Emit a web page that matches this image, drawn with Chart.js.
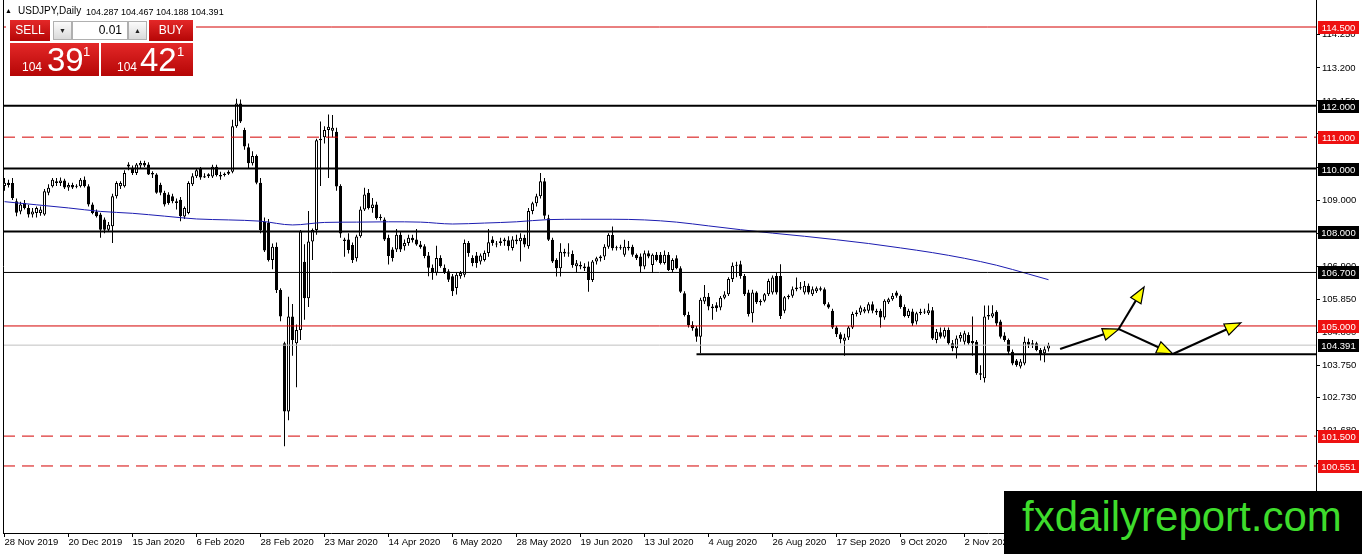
<!DOCTYPE html>
<html>
<head>
<meta charset="utf-8">
<title>USDJPY Daily</title>
<script src="https://cdn.jsdelivr.net/npm/chart.js@4.4.1/dist/chart.umd.min.js"></script>
<style>
  html, body { margin: 0; padding: 0; background: #fff; }
  #wrap { position: relative; width: 1362px; height: 554px; overflow: hidden; font-family: 'Liberation Sans', Arial, sans-serif; }
  #chart { position: absolute; left: 0; top: 0; }
  .hdr { position: absolute; top: 6px; font-size: 10px; line-height: 10px; color: #000; white-space: pre; }
  .panel { position: absolute; left: 6px; top: 17px; width: 190px; height: 62px; background: #fff; }
  .red { position: absolute; background: linear-gradient(#e42828, #b50606); color: #fff; }
  .btn { top: 20px; height: 21px; font-size: 12px; line-height: 21px; text-align: center; }
  .spin { position: absolute; top: 21px; width: 19px; height: 19px; box-sizing: border-box; background: linear-gradient(#fbfbfb, #dadada); border: 1px solid #b0b0b0; font-size: 7px; line-height: 17px; text-align: center; color: #222; }
  .lot { position: absolute; left: 72px; top: 21px; width: 56px; height: 19px; box-sizing: border-box; background: #fff; border: 1px solid #b0b0b0; font-size: 12px; line-height: 17px; text-align: right; padding-right: 5px; }
  .big { top: 43px; height: 33px; }
  .big span { position: absolute; white-space: nowrap; }
  .big .s { font-size: 12px; line-height: 12px; top: 18px; }
  .big .l { font-size: 33px; line-height: 33px; top: 0; }
  .big .p { font-size: 13px; line-height: 13px; top: 2px; }
  .wm { position: absolute; left: 1004px; top: 491px; width: 358px; height: 63px; background: #000; }
  .wm span { position: absolute; left: 18px; top: 5px; font-size: 42px; line-height: 42px; color: #3edc2c; white-space: nowrap; }
</style>
</head>
<body>
<div id="wrap">
  <canvas id="chart" width="1362" height="554"></canvas>
  <div class="hdr" style="left:5px;font-size:7px;">▲</div>
  <div class="hdr" style="left:18px;">USDJPY,Daily</div>
  <div class="hdr" style="left:86px;font-size:9px;top:7px;">104.287 104.467 104.188 104.391</div>
  <div class="panel"></div>
  <div class="red btn" style="left:10px;width:40px;">SELL</div>
  <div class="spin" style="left:53px;">▼</div>
  <div class="lot">0.01</div>
  <div class="spin" style="left:128px;">▲</div>
  <div class="red btn" style="left:149px;width:44px;">BUY</div>
  <div class="red big" style="left:10px;width:89px;">
    <span class="s" style="left:12px;">104</span><span class="l" style="left:37px;">39</span><span class="p" style="left:73px;">1</span>
  </div>
  <div class="red big" style="left:101px;width:92px;">
    <span class="s" style="left:16px;">104</span><span class="l" style="left:39px;">42</span><span class="p" style="left:76px;">1</span>
  </div>
  <div class="wm"><span>fxdailyreport.com</span></div>
</div>
<script>
'use strict';

// daily bars, 28 Nov 2019 .. 30 Nov 2020
let opens = [
  109.45,109.55,109.54,108.96,108.64,108.91,108.75,108.54,108.59,108.59,
  108.54,109.23,109.44,109.60,109.54,109.62,109.40,109.48,109.42,109.44,
  109.65,109.44,108.86,108.64,108.54,108.38,108.06,108.17,109.12,109.44,
  109.44,110.07,110.02,109.86,110.10,110.18,110.13,109.81,109.81,109.49,
  109.23,109.18,109.12,108.96,109.01,108.48,108.59,109.50,109.76,110.00,
  109.72,109.76,109.75,110.06,109.75,109.80,109.84,109.90,111.35,112.07,
  111.23,110.68,110.17,110.40,109.55,108.30,108.28,107.10,107.52,106.14,
  104.45,102.28,105.30,104.45,104.87,107.04,105.88,107.68,108.05,110.90,
  111.00,111.23,111.20,111.17,109.45,107.70,107.75,107.57,107.15,107.85,
  108.70,109.23,108.75,108.86,108.43,108.38,107.80,107.43,107.43,107.90,
  107.53,107.64,107.80,107.75,107.59,107.53,107.24,106.85,106.69,107.16,
  106.85,106.74,106.58,106.21,106.58,106.63,107.64,107.16,107.24,107.05,
  107.10,107.32,107.75,107.62,107.64,107.69,107.72,107.48,107.75,107.69,
  107.80,107.53,108.65,108.90,109.12,109.60,108.42,107.74,107.10,106.83,
  107.36,107.30,107.29,106.90,106.94,106.83,106.89,106.46,107.05,107.15,
  107.21,107.52,107.89,107.47,107.50,107.26,107.47,107.52,107.26,107.21,
  106.89,107.31,106.94,107.26,107.26,107.00,107.26,106.78,107.15,106.83,
  106.04,105.35,105.03,104.93,104.66,105.78,105.93,105.62,105.66,105.59,
  105.90,106.01,106.49,106.91,106.96,106.59,106.06,105.40,106.06,105.80,
  105.80,106.01,106.06,106.59,106.59,105.48,105.91,105.96,106.17,106.22,
  106.06,106.28,106.01,106.10,106.20,106.17,105.69,105.48,104.95,104.74,
  104.53,104.63,104.95,105.38,105.43,105.46,105.48,105.69,105.48,105.48,
  105.27,105.75,105.85,106.06,105.96,105.60,105.32,105.46,105.14,105.40,
  105.45,105.40,105.50,104.55,104.80,104.66,104.87,104.45,104.29,104.60,
  104.50,104.71,104.52,104.50,103.50,103.34,105.30,105.30,105.45,105.14,
  104.70,104.55,104.18,103.90,103.71,103.81,104.50,104.40,104.45,104.24,
  104.13,104.287
];
let highs = [
  109.70,109.65,109.70,109.05,108.95,109.00,108.85,108.75,108.80,108.80,
  109.35,109.50,109.70,109.70,109.72,109.68,109.55,109.55,109.50,109.70,
  109.75,109.50,108.92,108.70,108.60,108.45,108.30,109.20,109.60,109.60,
  109.95,110.20,110.10,110.18,110.25,110.25,110.20,109.92,109.85,109.55,
  109.30,109.25,109.20,109.05,109.10,108.80,109.60,109.85,110.00,110.05,
  109.85,109.85,110.12,110.12,109.90,109.88,109.95,111.55,112.22,112.20,
  111.30,110.80,110.55,110.45,109.70,108.45,108.40,107.62,107.65,106.20,
  104.50,105.93,105.70,105.05,108.05,107.60,108.65,108.10,110.95,111.50,
  111.35,111.72,111.70,111.30,109.50,107.80,107.95,107.65,107.90,108.80,
  109.39,109.35,109.07,108.95,108.55,108.45,107.90,107.50,108.08,108.00,
  107.75,107.90,107.90,108.08,107.70,107.60,107.35,106.95,107.55,107.25,
  106.95,106.80,106.65,106.70,106.75,107.75,107.70,107.25,107.35,107.30,
  107.40,108.08,107.85,107.70,107.80,107.80,107.85,107.85,107.90,107.95,
  107.90,108.75,108.95,109.20,109.86,109.70,108.53,107.80,107.15,107.63,
  107.45,107.63,107.40,107.10,107.05,106.99,107.05,107.10,107.20,107.25,
  107.60,107.95,108.16,107.55,107.58,107.74,107.70,107.58,107.30,107.30,
  107.40,107.40,107.30,107.35,107.35,107.40,107.35,107.15,107.25,106.90,
  106.10,105.45,105.15,105.00,105.90,106.30,106.05,105.70,105.75,105.95,
  106.10,106.55,107.02,107.04,107.07,106.65,106.15,106.15,106.10,105.85,
  106.05,106.50,106.60,106.70,106.96,105.95,106.00,106.25,106.54,106.40,
  106.43,106.35,106.25,106.25,106.25,106.22,105.75,105.55,105.00,104.80,
  104.75,105.00,105.45,105.50,105.65,105.60,105.75,105.78,105.55,105.55,
  105.85,105.90,106.05,106.12,106.00,105.68,105.55,105.55,105.45,105.55,
  105.55,105.71,105.60,104.90,104.95,104.95,104.95,104.55,104.70,104.80,
  104.85,104.80,105.30,104.55,103.75,105.65,105.65,105.66,105.50,105.20,
  104.80,104.60,104.25,103.95,103.95,104.66,104.60,104.55,104.50,104.30,
  104.35,104.467
];
let lows = [
  109.30,109.40,109.00,108.49,108.55,108.70,108.45,108.45,108.45,108.50,
  108.50,109.15,109.40,109.45,109.45,109.35,109.30,109.35,109.38,109.40,
  109.40,108.80,108.55,108.45,107.80,107.95,108.00,107.64,109.05,109.35,
  109.40,109.95,109.80,109.80,110.00,110.05,109.80,109.70,109.20,109.15,
  108.80,108.85,108.90,108.70,108.33,108.40,108.55,109.45,109.70,109.65,
  109.70,109.70,109.70,109.75,109.65,109.75,109.80,109.85,111.30,111.45,
  110.60,110.00,110.10,109.50,107.95,107.35,107.05,106.80,106.05,105.15,
  101.18,102.00,104.05,103.05,104.55,105.20,105.60,107.10,107.90,109.45,
  110.80,109.70,111.00,109.30,107.80,107.20,107.30,107.00,107.05,107.80,
  108.65,108.70,108.60,108.38,108.35,107.70,106.95,107.05,107.35,107.35,
  107.40,107.55,107.65,107.55,107.45,107.15,106.58,106.47,106.60,106.85,
  106.65,106.40,105.95,106.00,106.50,106.55,107.20,106.90,106.85,106.95,
  107.05,107.20,107.55,107.50,107.55,107.55,107.40,107.40,107.60,107.05,
  107.50,107.45,108.55,108.80,109.05,108.40,107.70,107.00,106.57,106.57,
  107.20,107.20,106.85,106.70,106.80,106.75,106.09,106.40,106.95,107.05,
  107.10,107.45,107.40,107.40,107.42,107.20,107.40,107.20,107.10,106.68,
  106.80,107.15,106.68,107.05,106.95,106.95,106.75,106.70,106.80,106.05,
  105.30,104.95,104.85,104.50,104.13,105.70,105.50,105.20,105.45,105.50,
  105.85,105.95,106.40,106.55,106.50,105.95,105.30,105.11,105.70,105.65,
  105.75,105.95,106.00,106.00,105.22,105.40,105.85,105.90,106.10,106.15,
  106.00,106.00,105.95,106.05,106.10,105.65,105.55,104.90,104.65,104.45,
  104.05,104.55,104.90,105.30,105.35,105.40,105.40,105.40,105.35,104.95,
  105.20,105.70,105.80,105.90,105.55,105.28,105.25,105.00,105.05,105.35,
  105.38,105.35,104.55,104.45,104.60,104.60,104.40,104.20,103.97,104.50,
  104.40,104.40,104.05,103.45,103.28,103.20,105.20,105.25,105.00,104.60,
  104.50,104.10,103.75,103.70,103.65,103.75,104.30,104.30,104.20,103.90,
  103.85,104.188
];
let closes = [
  109.55,109.48,109.07,108.60,108.86,108.75,108.54,108.64,108.75,108.70,
  109.28,109.39,109.65,109.54,109.62,109.40,109.48,109.40,109.44,109.65,
  109.44,108.86,108.59,108.49,108.06,108.06,108.22,109.12,109.54,109.54,
  109.86,110.13,109.86,110.13,110.18,110.10,109.81,109.86,109.23,109.23,
  108.86,108.91,108.96,108.91,108.49,108.75,109.54,109.76,109.95,109.72,
  109.76,109.82,110.06,109.80,109.80,109.84,109.90,111.35,112.07,111.50,
  110.70,110.17,110.40,109.55,108.05,107.40,107.10,107.52,106.14,105.30,
  102.28,105.30,104.55,104.87,108.00,105.88,107.68,108.05,110.90,110.95,
  111.23,111.33,111.30,109.43,107.94,107.75,107.41,107.10,107.84,108.70,
  109.18,108.75,108.86,108.43,108.47,107.75,107.22,107.16,107.90,107.43,
  107.64,107.80,107.72,107.59,107.50,107.22,106.85,106.69,107.16,106.90,
  106.69,106.47,106.10,106.63,106.68,107.64,107.32,107.00,107.00,107.24,
  107.32,107.66,107.64,107.59,107.69,107.75,107.53,107.75,107.69,107.80,
  107.59,108.65,108.90,109.12,109.60,108.50,107.74,107.05,106.83,107.36,
  107.30,107.33,106.94,106.99,106.89,106.89,106.46,107.05,107.15,107.21,
  107.52,107.89,107.47,107.50,107.47,107.52,107.52,107.26,107.15,106.89,
  107.31,107.21,107.26,107.10,107.00,107.26,106.78,107.10,106.83,106.09,
  105.35,105.03,104.93,104.66,105.83,105.93,105.62,105.56,105.56,105.90,
  106.00,106.49,106.91,106.93,106.59,106.01,105.38,106.06,105.75,105.75,
  106.01,106.43,106.54,106.06,105.32,105.91,105.96,106.17,106.22,106.20,
  106.28,106.06,106.17,106.20,106.15,105.69,105.59,104.95,104.74,104.58,
  104.63,104.95,105.38,105.43,105.59,105.53,105.69,105.48,105.43,105.27,
  105.80,105.85,105.96,105.96,105.60,105.32,105.48,105.08,105.40,105.45,
  105.43,105.50,104.60,104.82,104.66,104.87,104.45,104.29,104.60,104.71,
  104.77,104.45,104.45,103.50,103.45,105.30,105.35,105.40,105.08,104.66,
  104.55,104.18,103.81,103.76,103.87,104.50,104.40,104.45,104.24,104.08,
  104.26,104.391
];

// blue moving average, sampled every 8 bars
let maBars = [0, 8, 16, 24, 32, 40, 48, 56, 64, 72, 80, 88, 96, 104, 112, 120, 128,
  136, 144, 152, 160, 168, 176, 184, 192, 200, 208, 216, 224, 232, 240, 248, 256, 261];
let maValues = [108.95, 108.85, 108.75, 108.64, 108.58, 108.49, 108.40, 108.37, 108.33, 108.21,
  108.29, 108.30, 108.31, 108.30, 108.24, 108.27, 108.31, 108.38, 108.39, 108.39, 108.37,
  108.30, 108.18, 108.06, 107.95, 107.85, 107.74, 107.62, 107.48, 107.33, 107.15, 106.93, 106.65, 106.47];

// one label every 16 bars
let dateLabels = ['28 Nov 2019', '20 Dec 2019', '15 Jan 2020', '6 Feb 2020', '28 Feb 2020', '23 Mar 2020',
  '14 Apr 2020', '6 May 2020', '28 May 2020', '19 Jun 2020', '13 Jul 2020', '4 Aug 2020',
  '26 Aug 2020', '17 Sep 2020', '9 Oct 2020', '2 Nov 2020'];
let priceTicks = [114.25, 113.2, 112.15, 111.1, 110.05, 109.0, 107.95, 106.9, 105.85, 104.8,
  103.75, 102.73, 101.68, 100.63];

// horizontal levels drawn on the chart
let redSolidLevels = [114.5, 105.0];
let redDashedLevels = [111.0, 101.5, 100.551];
let blackThickLevels = [112.0, 110.0, 108.0];
let blackThinLevels = [106.7];
let bidPrice = 104.391;
let supportLevel = 104.1;
let supportFromBar = 173;

// arrows: [fromBar, fromPrice, toBar, toPrice]
let arrowPaths = [
  [263.9, 104.27, 278.6, 104.90],
  [278.4, 104.87, 284.9, 106.24],
  [278.6, 104.90, 292.1, 104.11],
  [292.1, 104.11, 309.1, 105.10]
];

const X_MIN = -0.375, X_MAX = 327.875;
const Y_MIN = 98.421, Y_MAX = 115.358;
const RED = '#d40000';
const FONT = { family: "'Liberation Sans', Arial, sans-serif", size: 9.5 };

function levelLine(v, color, width, dash, fromX) {
  return {
    type: 'line',
    data: [{ x: fromX, y: v }, { x: X_MAX, y: v }],
    borderColor: color, borderWidth: width, borderDash: dash,
    pointRadius: 0, fill: false, order: 0
  };
}

let levelSets = [];
redSolidLevels.forEach(v => levelSets.push(levelLine(v, RED, 1, [], X_MIN)));
redDashedLevels.forEach(v => levelSets.push(levelLine(v, RED, 1, [12, 7], X_MIN)));
blackThickLevels.forEach(v => levelSets.push(levelLine(v, '#000', 2, [], X_MIN)));
blackThinLevels.forEach(v => levelSets.push(levelLine(v, '#000', 1, [], X_MIN)));
levelSets.push(levelLine(bidPrice, '#c0c0c0', 1, [], X_MIN));
levelSets.push(levelLine(supportLevel, '#000', 2, [], supportFromBar));

// tags on the price axis
let axisTags = [];
redSolidLevels.concat(redDashedLevels).forEach(v => axisTags.push({ value: v, bg: '#ee1111' }));
blackThickLevels.concat(blackThinLevels, [bidPrice]).forEach(v => axisTags.push({ value: v, bg: '#000' }));

const tagPlugin = {
  id: 'tags',
  afterDraw(chart) {
    const ctx = chart.ctx, y = chart.scales.y, area = chart.chartArea;
    ctx.save();
    ctx.strokeStyle = '#000';
    ctx.lineWidth = 1;
    ctx.beginPath();
    ctx.moveTo(area.left + 0.5, 0);
    ctx.lineTo(area.left + 0.5, area.bottom);
    ctx.stroke();
    ctx.font = "9.5px 'Liberation Sans', Arial, sans-serif";
    ctx.textAlign = 'center';
    ctx.textBaseline = 'middle';
    axisTags.forEach(t => {
      const py = Math.round(y.getPixelForValue(t.value));
      ctx.fillStyle = t.bg;
      ctx.fillRect(area.right + 2, py - 6, 41, 13);
      ctx.fillStyle = '#fff';
      ctx.fillText(t.value.toFixed(3), area.right + 22.5, py + 1);
    });
    ctx.restore();
  }
};

const arrowPlugin = {
  id: 'arrows',
  afterDatasetsDraw(chart) {
    const ctx = chart.ctx, xs = chart.scales.x, ys = chart.scales.y;
    ctx.save();
    arrowPaths.forEach(a => {
      const x1 = xs.getPixelForValue(a[0]), y1 = ys.getPixelForValue(a[1]);
      const x2 = xs.getPixelForValue(a[2]), y2 = ys.getPixelForValue(a[3]);
      const ang = Math.atan2(y2 - y1, x2 - x1);
      const len = 16, half = 6;
      const bx = x2 - len * Math.cos(ang), by = y2 - len * Math.sin(ang);
      ctx.strokeStyle = '#000';
      ctx.lineWidth = 2;
      ctx.beginPath();
      ctx.moveTo(x1, y1);
      ctx.lineTo(bx, by);
      ctx.stroke();
      ctx.beginPath();
      ctx.moveTo(x2, y2);
      ctx.lineTo(bx + half * Math.sin(ang), by - half * Math.cos(ang));
      ctx.lineTo(bx - half * Math.sin(ang), by + half * Math.cos(ang));
      ctx.closePath();
      ctx.fillStyle = '#ffff00';
      ctx.fill();
      ctx.lineWidth = 1.2;
      ctx.stroke();
    });
    ctx.restore();
  }
};

let bodyData = opens.map((o, i) => ({ x: i, y: [o, closes[i]] }));
let wickData = lows.map((l, i) => ({ x: i, y: [l, highs[i]] }));
let bodyColors = opens.map((o, i) => closes[i] >= o ? '#fff' : '#000');

new Chart(document.getElementById('chart'), {
  type: 'bar',
  data: {
    datasets: levelSets.concat([
      {
        type: 'line',
        data: maBars.map((b, k) => ({ x: b, y: maValues[k] })),
        borderColor: '#1c1cb0', borderWidth: 1, pointRadius: 0,
        cubicInterpolationMode: 'monotone', fill: false, order: 0
      },
      {
        data: bodyData, backgroundColor: bodyColors, borderColor: '#000', borderWidth: 1,
        borderSkipped: false, grouped: false, barThickness: 3, maxBarThickness: 3,
        minBarLength: 1, inflateAmount: 0, order: 1
      },
      {
        data: wickData, backgroundColor: '#000', borderWidth: 0,
        grouped: false, barThickness: 1, maxBarThickness: 1, inflateAmount: 0, order: 2
      }
    ])
  },
  options: {
    responsive: false,
    animation: false,
    devicePixelRatio: 1,
    layout: { padding: { left: 3, top: 0, right: 0, bottom: 0 } },
    plugins: { legend: { display: false }, tooltip: { enabled: false } },
    scales: {
      x: {
        type: 'linear', min: X_MIN, max: X_MAX, offset: false,
        grid: { drawOnChartArea: false, drawTicks: true, tickLength: 4, color: '#000', offset: false },
        border: { display: true, color: '#000', width: 1 },
        ticks: {
          autoSkip: false, maxRotation: 0, minRotation: 0, align: 'start', padding: 0,
          color: '#000', font: FONT,
          callback: (v, i) => dateLabels[i]
        },
        afterBuildTicks: s => { s.ticks = dateLabels.map((d, k) => ({ value: k * 16 })); },
        afterFit: s => { s.height = 21; s.paddingLeft = 0; s.paddingRight = 0; }
      },
      y: {
        type: 'linear', position: 'right', min: Y_MIN, max: Y_MAX,
        grid: { drawOnChartArea: false, drawTicks: true, tickLength: 4, color: '#000' },
        border: { display: true, color: '#000', width: 1 },
        ticks: {
          autoSkip: false, padding: 2, color: '#000', font: FONT,
          callback: v => v.toFixed(3)
        },
        afterBuildTicks: s => { s.ticks = priceTicks.map(v => ({ value: v })); },
        afterFit: s => { s.width = 46; s.paddingTop = 0; s.paddingBottom = 0; }
      }
    }
  },
  plugins: [tagPlugin, arrowPlugin]
});
</script>
</body>
</html>
